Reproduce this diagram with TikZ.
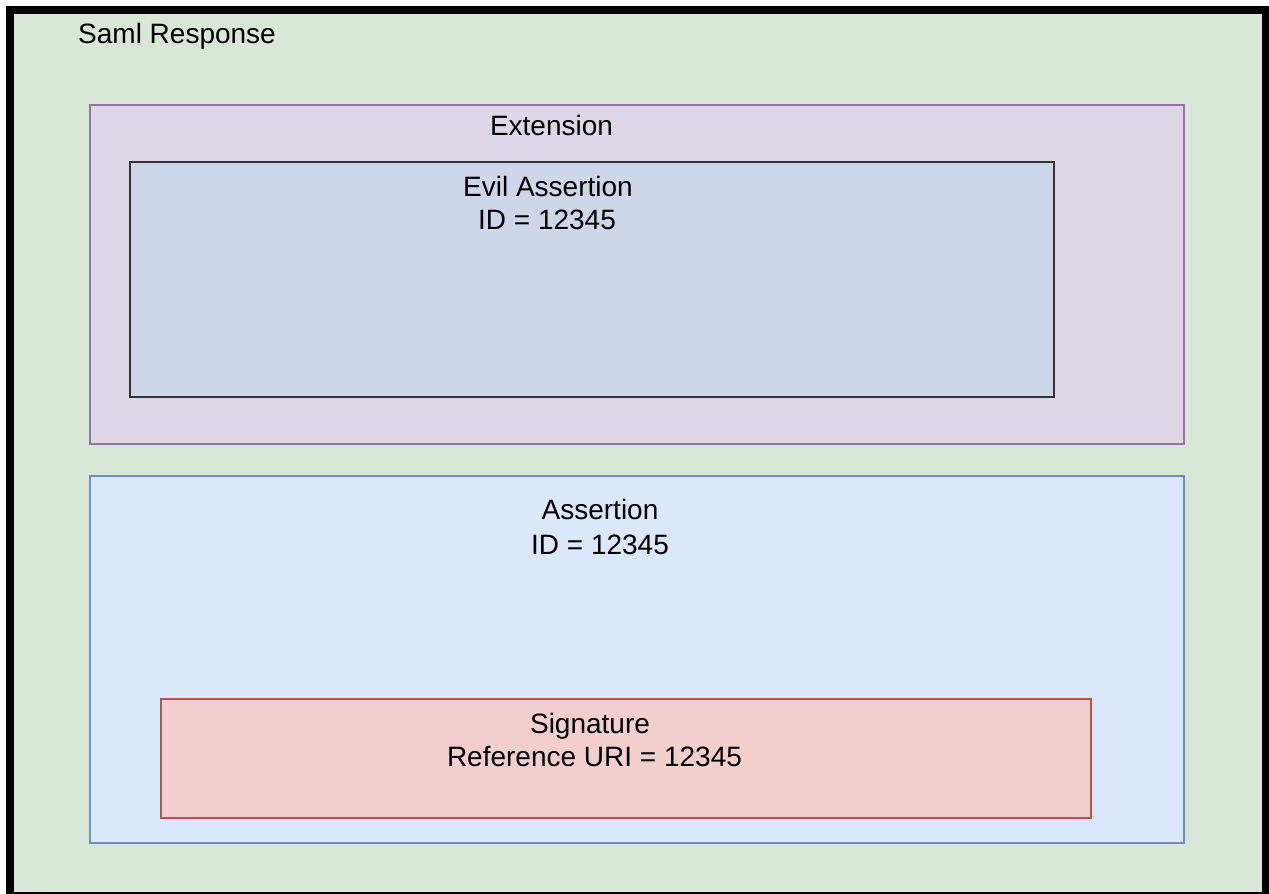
\documentclass[tikz,border=0pt]{standalone}
\usepackage{fontspec}
\setmainfont{Liberation Sans}
\usepackage{tikz}
\usepackage{xcolor}
\usetikzlibrary{positioning}

\definecolor{samlgreen}{HTML}{D9E7D7}
\definecolor{extpurple}{HTML}{E0D7E6}
\definecolor{extborder}{HTML}{9673A6}
\definecolor{evilfill}{HTML}{CDD7E9}
\definecolor{evilborder}{HTML}{333333}
\definecolor{assertfill}{HTML}{DBE7FA}
\definecolor{assertborder}{HTML}{6C8EBF}
\definecolor{sigfill}{HTML}{F2CFCC}
\definecolor{sigborder}{HTML}{B85450}

\tikzset{
    box/.style={line width=1.3pt},
    label/.style={inner sep=0pt, anchor=base, font=\fontsize{28}{33}\selectfont}
}

\begin{document}
\begin{tikzpicture}[x=1pt, y=-1pt]
    \useasboundingbox (0,0) rectangle (1269,894);
    \clip (0,0) rectangle (1269,894);

    % Saml Response (outer)
    \draw[line width=8pt, fill=samlgreen] (10,9.5) rectangle (1266,896);
    \node[label, anchor=base west] (saml) at (78,43) {Saml Response};

    % Extension
    \draw[box, draw=extborder, fill=extpurple] (90,105) rectangle (1184,444);
    \node[label] (ext) at (551.5,135) {Extension};

    % Evil Assertion
    \draw[box, draw=evilborder, fill=evilfill] (130,162) rectangle (1054,397);
    \node[label] (evil) at (548,196) {Evil Assertion};
    \node[label] (evilid) at (547,229) {ID = 12345};

    % Assertion
    \draw[box, draw=assertborder, fill=assertfill] (90,476) rectangle (1184,843);
    \node[label] (assert) at (600,519) {Assertion};
    \node[label] (assertid) at (600,554) {ID = 12345};

    % Signature
    \draw[box, draw=sigborder, fill=sigfill] (161,699) rectangle (1091,818);
    \node[label] (sig) at (590,733) {Signature};
    \node[label] (sigref) at (594.5,766) {Reference URI = 12345};
\end{tikzpicture}
\end{document}
